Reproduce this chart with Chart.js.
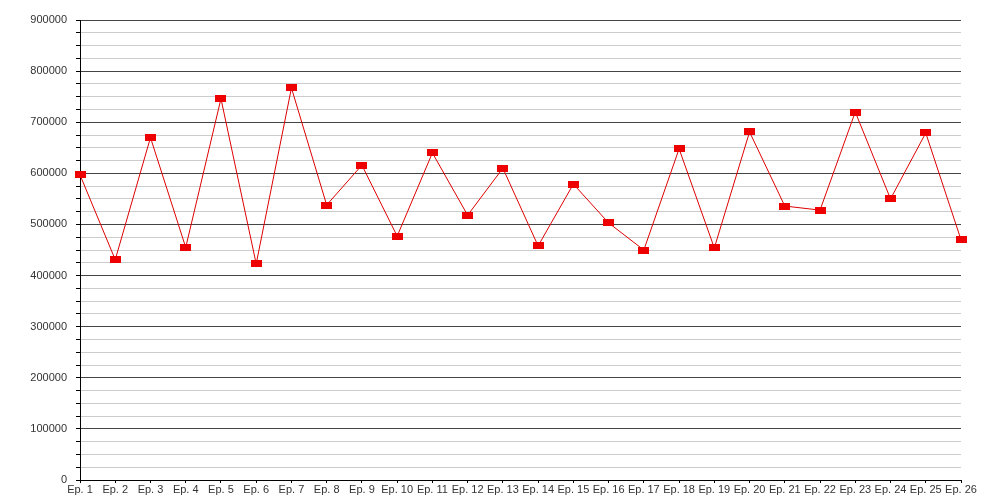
<!DOCTYPE html>
<html>
<head>
<meta charset="utf-8">
<script src="https://cdn.jsdelivr.net/npm/chart.js@4/dist/chart.umd.min.js"></script>
<style>
  html, body { margin: 0; padding: 0; background: #fff; }
  #wrap { width: 1000px; height: 500px; }
</style>
</head>
<body>
<div id="wrap"><canvas id="chart" width="1000" height="500"></canvas></div>
<script>
const episodes = [
  "Ep. 1", "Ep. 2", "Ep. 3", "Ep. 4", "Ep. 5", "Ep. 6", "Ep. 7", "Ep. 8", "Ep. 9",
  "Ep. 10", "Ep. 11", "Ep. 12", "Ep. 13", "Ep. 14", "Ep. 15", "Ep. 16", "Ep. 17",
  "Ep. 18", "Ep. 19", "Ep. 20", "Ep. 21", "Ep. 22", "Ep. 23", "Ep. 24", "Ep. 25", "Ep. 26"
];

const viewers = [
  597000, 431000, 670000, 455000, 746000, 423000, 767000, 538000, 616000,
  477000, 640000, 518000, 610000, 458000, 579000, 503000, 450000,
  648000, 454000, 681000, 536000, 528000, 720000, 550000, 679000, 470000
];

const yMin = 0;
const yMax = 900000;
const majorStep = 100000;
const minorStep = 25000;

// small red rectangle used as point marker
function makeMarker() {
  const c = document.createElement("canvas");
  c.width = 11;
  c.height = 7;
  const ctx = c.getContext("2d");
  ctx.fillStyle = "#ee0000";
  ctx.fillRect(0, 0, 11, 7);
  return c;
}

const marker = makeMarker();
const isMajor = (v) => v % majorStep === 0;

new Chart(document.getElementById("chart"), {
  type: "line",
  data: {
    labels: episodes,
    datasets: [
      {
        data: viewers,
        borderColor: "#dd0000",
        borderWidth: 1,
        tension: 0,
        pointStyle: marker,
        pointRadius: 5,
        pointHoverRadius: 5
      }
    ]
  },
  options: {
    responsive: false,
    animation: false,
    layout: {
      padding: { top: 20, right: 39, left: 0, bottom: 0 }
    },
    plugins: {
      legend: { display: false },
      tooltip: { enabled: false }
    },
    scales: {
      x: {
        offset: false,
        grid: {
          drawOnChartArea: false,
          color: "#000",
          tickLength: 3
        },
        border: { color: "#000", width: 1 },
        ticks: {
          color: "#333",
          font: { family: "Liberation Sans, Arial, sans-serif", size: 11 },
          padding: 0,
          maxRotation: 0,
          autoSkip: false
        },
        afterFit(scale) {
          scale.height = 20;
        }
      },
      y: {
        min: yMin,
        max: yMax,
        grid: {
          color: (ctx) => (isMajor(ctx.tick.value) ? "#444" : "#cccccc"),
          lineWidth: 1,
          tickLength: 4,
          tickColor: "#000"
        },
        border: { color: "#000", width: 1 },
        ticks: {
          stepSize: minorStep,
          autoSkip: false,
          color: "#333",
          font: { family: "Liberation Sans, Arial, sans-serif", size: 11 },
          padding: 9,
          callback(value) {
            return isMajor(value) ? String(value) : "";
          }
        },
        afterFit(scale) {
          scale.width = 80;
        }
      }
    }
  }
});
</script>
</body>
</html>
